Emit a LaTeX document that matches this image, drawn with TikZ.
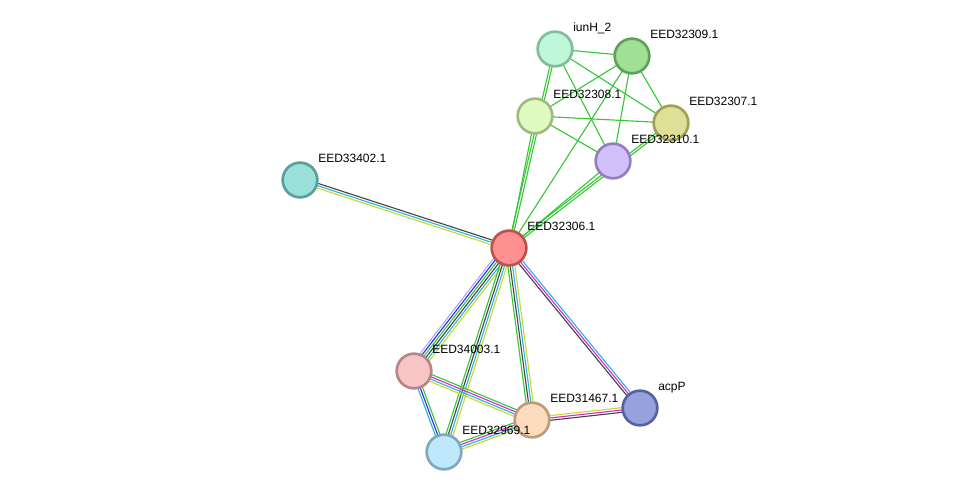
\documentclass[tikz,border=0pt]{standalone}
\usepackage{fontspec}
\setmainfont{Liberation Sans}
\usetikzlibrary{calc,backgrounds}

\definecolor{nbh}{RGB}{55,200,55}
\definecolor{txt}{RGB}{200,218,45}
\definecolor{coex}{RGB}{70,70,70}
\definecolor{db}{RGB}{45,180,225}
\definecolor{exps}{RGB}{215,45,215}
\definecolor{cooc}{RGB}{45,45,235}
\definecolor{hom}{RGB}{170,170,250}

\begin{document}
\begin{tikzpicture}[x=0.75pt, y=-0.75pt, line cap=round, line join=round,
    prot/.style={circle, minimum size=26pt, inner sep=0pt, line width=2pt},
    lbl/.style={anchor=base west, inner sep=0pt, font=\fontsize{9}{10}\selectfont},
    edge/.style={line width=0.85pt}]

  \useasboundingbox (0,0) rectangle (975,498);

  % proteins
  \node[prot, fill={rgb,255:red,190;green,248;blue,217}, draw={rgb,255:red,126;green,190;blue,154}] (iunH) at (555,49) {};
  \node[prot, fill={rgb,255:red,160;green,223;blue,150}, draw={rgb,255:red,95;green,160;blue,90}] (e309) at (632,56) {};
  \node[prot, fill={rgb,255:red,224;green,251;blue,192}, draw={rgb,255:red,160;green,187;blue,128}] (e308) at (535,116) {};
  \node[prot, fill={rgb,255:red,224;green,223;blue,152}, draw={rgb,255:red,160;green,160;blue,88}] (e307) at (671,123) {};
  \node[prot, fill={rgb,255:red,210;green,192;blue,252}, draw={rgb,255:red,146;green,128;blue,188}] (e310) at (613,161) {};
  \node[prot, fill={rgb,255:red,152;green,224;blue,216}, draw={rgb,255:red,88;green,159;blue,152}] (e33402) at (300,180) {};
  \node[prot, fill={rgb,255:red,255;green,144;blue,144}, draw={rgb,255:red,191;green,80;blue,80}] (e306) at (509,248) {};
  \node[prot, fill={rgb,255:red,247;green,197;blue,197}, draw={rgb,255:red,183;green,133;blue,133}] (e34003) at (414,371) {};
  \node[prot, fill={rgb,255:red,253;green,220;blue,189}, draw={rgb,255:red,189;green,156;blue,125}] (e31467) at (532,420) {};
  \node[prot, fill={rgb,255:red,151;green,161;blue,222}, draw={rgb,255:red,87;green,97;blue,158}] (acpP) at (640,408) {};
  \node[prot, fill={rgb,255:red,192;green,232;blue,252}, draw={rgb,255:red,128;green,168;blue,188}] (e32969) at (444,452) {};

  % names
  \node[lbl] (liunH)   at ($(iunH)+(18,-17)$)   {iunH\_2};
  \node[lbl] (l309)    at ($(e309)+(18,-17)$)   {EED32309.1};
  \node[lbl] (l308)    at ($(e308)+(18,-17)$)   {EED32308.1};
  \node[lbl] (l307)    at ($(e307)+(18,-17)$)   {EED32307.1};
  \node[lbl] (l310)    at ($(e310)+(18,-17)$)   {EED32310.1};
  \node[lbl] (l33402)  at ($(e33402)+(18,-17)$) {EED33402.1};
  \node[lbl] (l306)    at ($(e306)+(18,-17)$)   {EED32306.1};
  \node[lbl] (l34003)  at ($(e34003)+(18,-17)$) {EED34003.1};
  \node[lbl] (l31467)  at ($(e31467)+(18,-17)$) {EED31467.1};
  \node[lbl] (lacpP)   at ($(acpP)+(18,-17)$)   {acpP};
  \node[lbl] (l32969)  at ($(e32969)+(18,-17)$) {EED32969.1};

  \def\gap{1.75} % spacing of parallel lines
  \def\bundle#1#2#3#4{%
    \foreach \col [count=\i] in {#4} {
      \pgfmathsetmacro\off{(\i-(#3+1)/2)*\gap}
      \draw[edge, \col] ($(#1)!\off pt!90:(#2)$) -- ($(#2)!\off pt!-90:(#1)$);
    }}

  \begin{pgfonlayer}{background}
    % upper cluster
    \bundle{iunH}{e309}{1}{nbh}
    \bundle{iunH}{e307}{1}{nbh}
    \bundle{iunH}{e310}{1}{nbh}
    \bundle{e309}{e308}{1}{nbh}
    \bundle{e309}{e307}{1}{nbh}
    \bundle{e309}{e310}{1}{nbh}
    \bundle{e309}{e306}{1}{nbh}
    \bundle{e308}{e307}{1}{nbh}
    \bundle{e308}{e310}{1}{nbh}
    \bundle{iunH}{e306}{2}{nbh,nbh}
    \bundle{e308}{e306}{1}{nbh}
    \bundle{e307}{e306}{2}{nbh,nbh}
    \bundle{e310}{e306}{1}{nbh}
    % lower part
    \bundle{e33402}{e306}{3}{txt,db,coex}
    \bundle{e306}{e34003}{6}{hom,cooc,nbh,coex,db,txt}
    \bundle{e306}{e32969}{4}{nbh,coex,db,txt}
    \bundle{e306}{e31467}{4}{nbh,coex,db,txt}
    \bundle{e306}{acpP}{3}{coex,exps,db}
    \bundle{e34003}{e32969}{3}{db,cooc,nbh}
    \bundle{e34003}{e31467}{4}{txt,db,exps,nbh}
    \bundle{e32969}{e31467}{4}{txt,db,exps,nbh}
    \bundle{e31467}{acpP}{3}{coex,exps,txt}
  \end{pgfonlayer}
\end{tikzpicture}
\end{document}
